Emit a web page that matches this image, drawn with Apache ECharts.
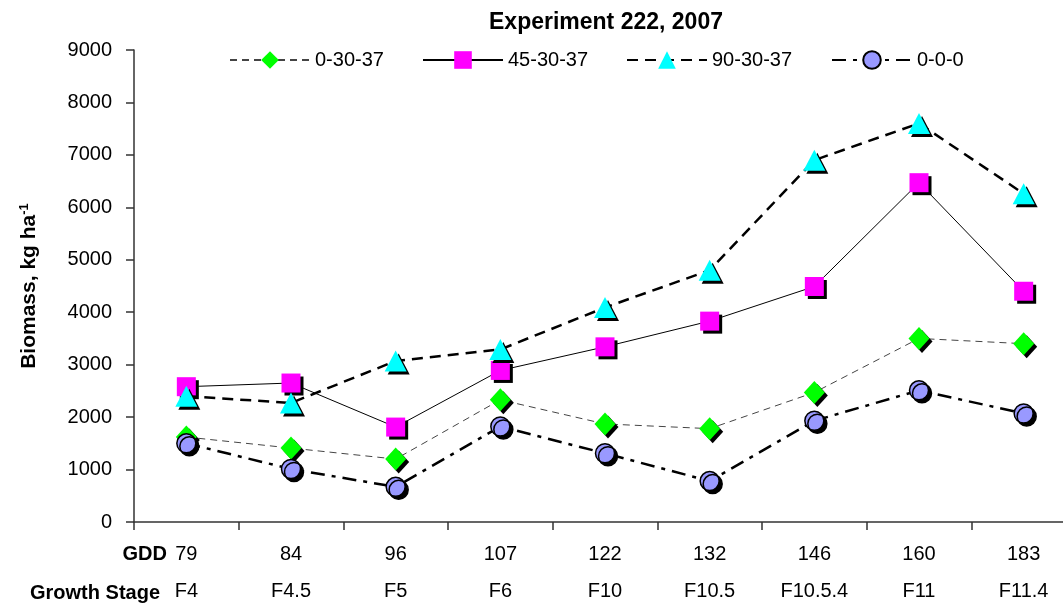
<!DOCTYPE html>
<html>
<head>
<meta charset="utf-8">
<title>Experiment 222, 2007</title>
<script src="https://cdn.jsdelivr.net/npm/echarts@6/dist/echarts.min.js"></script>
<style>
    html, body { margin: 0; padding: 0; background: #fff; }
    #biomass-chart { width: 1063px; height: 605px; }
</style>
</head>
<body>
<div id="biomass-chart"></div>
<script>
// GDD and growth stage for each sampling
var gdd = ['79', '84', '96', '107', '122', '132', '146', '160', '183'];
var stages = ['F4', 'F4.5', 'F5', 'F6', 'F10', 'F10.5', 'F10.5.4', 'F11', 'F11.4'];

// biomass, kg/ha
var n0_30_37 = [1620, 1410, 1200, 2330, 1870, 1780, 2470, 3500, 3400];
var n45_30_37 = [2580, 2650, 1810, 2890, 3340, 3830, 4490, 6470, 4400];
var n90_30_37 = [2400, 2270, 3070, 3290, 4090, 4800, 6900, 7600, 6260];
var n0_0_0 = [1500, 1010, 670, 1820, 1310, 780, 1930, 2510, 2070];

var yTicks = [0, 9000, 1000]; // min, max, interval

var FONT = 'Liberation Sans, Arial, sans-serif';

function markerStyle(color, border) {
    return {
        color: color,
        borderColor: border ? '#000' : color,
        borderWidth: border ? 1.5 : 0,
        shadowColor: '#000',
        shadowBlur: 0,
        shadowOffsetX: 3,
        shadowOffsetY: 3
    };
}

function oneLegend(name, left) {
    return {
        data: [name],
        left: left,
        top: 50,
        padding: 0,
        itemWidth: 80,
        itemHeight: 22,
        itemGap: 0,
        textStyle: { fontFamily: FONT, fontSize: 20, color: '#000' },
        itemStyle: { shadowColor: 'rgba(0,0,0,0)', shadowOffsetX: 0, shadowOffsetY: 0 }
    };
}

var chart = echarts.init(document.getElementById('biomass-chart'));

chart.setOption({
    animation: false,
    title: {
        text: 'Experiment 222, 2007',
        left: 601,
        textAlign: 'center',
        top: 6,
        textStyle: { fontFamily: FONT, fontSize: 23, fontWeight: 'bold', color: '#000' }
    },
    legend: [
        oneLegend('0-30-37', 229),
        oneLegend('45-30-37', 422),
        oneLegend('90-30-37', 626),
        oneLegend('0-0-0', 831)
    ],
    grid: { left: 134, top: 50, right: -13, bottom: 83, outerBoundsMode: 'none' },
    xAxis: {
        type: 'category',
        data: gdd,
        axisLine: { lineStyle: { color: '#333', width: 1.5 } },
        axisTick: { show: true, length: 8, lineStyle: { color: '#333', width: 1.5 } },
        axisLabel: {
            margin: 14,
            interval: 0,
            formatter: function (value, idx) {
                return '{g|' + value + '}\n{s|' + stages[idx] + '}';
            },
            rich: {
                g: { fontFamily: FONT, fontSize: 20, color: '#000', lineHeight: 37 },
                s: { fontFamily: FONT, fontSize: 20, color: '#000', lineHeight: 37 }
            }
        },
        splitLine: { show: false }
    },
    yAxis: {
        type: 'value',
        min: yTicks[0],
        max: yTicks[1],
        interval: yTicks[2],
        name: 'Biomass, kg ha{sup|-1}',
        nameLocation: 'middle',
        nameGap: 94,
        nameTextStyle: {
            fontFamily: FONT, fontSize: 21, fontWeight: 'bold', color: '#000',
            rich: {
                sup: { fontFamily: FONT, fontSize: 13, fontWeight: 'bold', color: '#000', verticalAlign: 'top', padding: [0, 0, 9, 0] }
            }
        },
        axisLine: { show: true, lineStyle: { color: '#333', width: 1.5 } },
        axisTick: { show: true, length: 8, lineStyle: { color: '#333', width: 1.5 } },
        axisLabel: {
            margin: 22, fontFamily: FONT, fontSize: 20, color: '#000',
            formatter: function (v) { return String(v); }
        },
        splitLine: { show: false }
    },
    series: [
        {
            name: '0-30-37',
            type: 'line',
            data: n0_30_37,
            symbol: 'diamond',
            symbolSize: [21, 23],
            z: 3,
            lineStyle: { color: '#444', width: 1, type: [7, 5] },
            itemStyle: markerStyle('#00FF00', false)
        },
        {
            name: '45-30-37',
            type: 'line',
            data: n45_30_37,
            symbol: 'rect',
            symbolSize: 19,
            z: 4,
            lineStyle: { color: '#000', width: 1, type: 'solid' },
            itemStyle: markerStyle('#FF00FF', false)
        },
        {
            name: '90-30-37',
            type: 'line',
            data: n90_30_37,
            symbol: 'triangle',
            symbolSize: [22, 21],
            z: 5,
            lineStyle: { color: '#000', width: 2.5, type: [11, 7] },
            itemStyle: markerStyle('#00FFFF', false)
        },
        {
            name: '0-0-0',
            type: 'line',
            data: n0_0_0,
            symbol: 'circle',
            symbolSize: 19,
            z: 6,
            lineStyle: { color: '#000', width: 2.5, type: [14, 7, 4, 7] },
            itemStyle: markerStyle('#9999FF', true)
        }
    ],
    graphic: [
        {
            type: 'text',
            right: 1063 - 167,
            top: 544,
            style: { text: 'GDD', fontFamily: FONT, fontSize: 20, fontWeight: 'bold', fill: '#000' }
        },
        {
            type: 'text',
            right: 1063 - 160,
            top: 583,
            style: { text: 'Growth Stage', fontFamily: FONT, fontSize: 20, fontWeight: 'bold', fill: '#000' }
        }
    ]
});
</script>
</body>
</html>
